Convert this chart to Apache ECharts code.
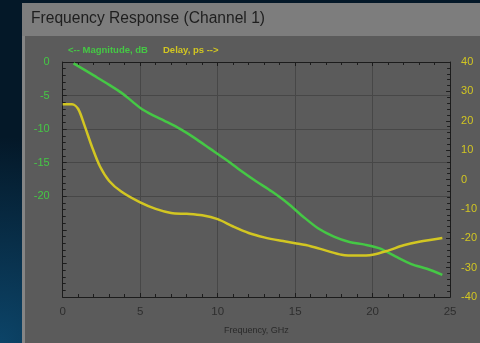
<!DOCTYPE html>
<html>
<head>
<meta charset="utf-8">
<script src="https://cdn.jsdelivr.net/npm/echarts@6/dist/echarts.min.js"></script>
<style>
html,body{margin:0;padding:0;background:#04182a;}
#c{width:480px;height:343px;}
</style>
</head>
<body>
<div id="c"></div>
<script>
// Magnitude (dB) vs frequency (GHz)
const magFreq = [0.7, 2.0, 3.0, 3.8, 4.5, 5.1, 5.8, 6.6, 7.6, 8.5, 9.5, 10.5, 11.5, 12.5, 13.5, 14.5, 15.5, 16.5, 17.5, 18.5, 19.5, 20.5, 21.5, 22.5, 23.5, 24.5];
const magDb   = [-0.2, -2.0, -3.4, -4.6, -5.9, -7.0, -7.9, -8.8, -10.0, -11.3, -12.9, -14.5, -16.2, -17.8, -19.3, -21.0, -23.0, -24.8, -26.0, -26.8, -27.2, -27.8, -29.0, -30.1, -30.8, -31.7];
// Delay (ps) vs frequency (GHz)
const delayFreq = [0, 0.6, 1.0, 1.4, 1.9, 2.4, 3.0, 3.8, 5.0, 6.0, 7.0, 8.0, 9.0, 10.0, 11.0, 12.0, 13.0, 14.0, 15.0, 16.0, 17.0, 18.0, 19.0, 20.0, 21.0, 22.0, 23.0, 24.5];
const delayPs   = [25.6, 25.6, 24.0, 18.5, 11.0, 4.5, -0.5, -4.2, -7.8, -10.0, -11.4, -11.7, -12.2, -13.5, -16.0, -18.2, -19.7, -20.8, -21.7, -22.7, -24.2, -25.6, -25.9, -25.6, -24.2, -22.4, -21.2, -19.9];
// Axis settings
const freqTicks = [0, 5, 10, 15, 20, 25];
const magTickLabels = [0, -5, -10, -15, -20];
const delayTicks = [40, 30, 20, 10, 0, -10, -20, -30, -40];

const GREEN = '#45c845';
const YELLOW = '#d2c622';
const FONT = 'Liberation Sans, Arial, sans-serif';
const AX = '#1c1c1c';

function frameAxis(extra) {
  return Object.assign({
    axisLine: {show: true, onZero: false, lineStyle: {color: AX, width: 1}},
    axisTick: {show: true, inside: true, length: 4, lineStyle: {color: AX}},
    minorTick: {show: true, splitNumber: 5, length: 3, lineStyle: {color: AX}}
  }, extra);
}

const chart = echarts.init(document.getElementById('c'));
chart.setOption({
  animation: false,
  backgroundColor: {
    type: 'radial', x: 0, y: 1, r: 0.6,
    colorStops: [{offset: 0, color: '#0c4468'}, {offset: 1, color: '#041828'}]
  },
  graphic: [
    {type: 'rect', z: -10, shape: {x: 22, y: 3, width: 458, height: 340}, style: {fill: '#5b5b5b'}},
    {type: 'rect', z: -9, shape: {x: 22, y: 3, width: 458, height: 33}, style: {fill: '#7d7d7d'}},
    {type: 'rect', z: -9, shape: {x: 22, y: 36, width: 3, height: 307}, style: {fill: '#858585'}},
    {type: 'text', z: 10, left: 31, top: 11, style: {text: 'Frequency Response (Channel 1)', fill: '#1e1e1e', font: '15.6px ' + FONT}},
    {type: 'text', z: 10, left: 68, top: 45, style: {text: '<-- Magnitude, dB', fill: GREEN, font: 'bold 9.5px ' + FONT}},
    {type: 'text', z: 10, left: 163, top: 45, style: {text: 'Delay, ps -->', fill: YELLOW, font: 'bold 9.5px ' + FONT}}
  ],
  grid: {left: 62.7, right: 28.3, top: 62, bottom: 46, show: false},
  xAxis: [frameAxis({
    type: 'value', min: freqTicks[0], max: freqTicks[freqTicks.length - 1], interval: 5,
    splitLine: {show: true, lineStyle: {color: '#474747', width: 1}},
    axisLabel: {color: '#2e2e2e', fontSize: 11.5, fontFamily: FONT, margin: 9},
    name: 'Frequency, GHz', nameLocation: 'middle', nameGap: 29,
    nameTextStyle: {color: '#2a2a2a', fontSize: 9, fontFamily: FONT}
  }), frameAxis({
    type: 'value', position: 'top', min: 0, max: 25, interval: 5,
    splitLine: {show: false},
    axisLabel: {show: false}
  })],
  yAxis: [frameAxis({
    type: 'value', min: -35, max: 0, interval: 5, position: 'left',
    splitLine: {show: true, lineStyle: {color: ['transparent', 'transparent', 'transparent', '#474747', '#474747', '#474747', '#474747', '#474747'], width: 1}},
    axisLabel: {color: GREEN, fontSize: 11, fontFamily: FONT, margin: 13,
      formatter: v => (magTickLabels.indexOf(v) >= 0 ? String(v) : '')}
  }), frameAxis({
    type: 'value', min: delayTicks[delayTicks.length - 1], max: delayTicks[0], interval: 10, position: 'right',
    splitLine: {show: false},
    axisLabel: {color: YELLOW, fontSize: 11, fontFamily: FONT, margin: 11}
  })],
  series: [{
    type: 'line', name: 'Magnitude, dB', xAxisIndex: 0, yAxisIndex: 0,
    data: magFreq.map((f, i) => [f, magDb[i]]),
    showSymbol: false, smooth: 0.3,
    lineStyle: {color: GREEN, width: 2.5}
  }, {
    type: 'line', name: 'Delay, ps', xAxisIndex: 0, yAxisIndex: 1,
    data: delayFreq.map((f, i) => [f, delayPs[i]]),
    showSymbol: false, smooth: 0.3,
    lineStyle: {color: YELLOW, width: 2.5}
  }]
});
</script>
</body>
</html>
